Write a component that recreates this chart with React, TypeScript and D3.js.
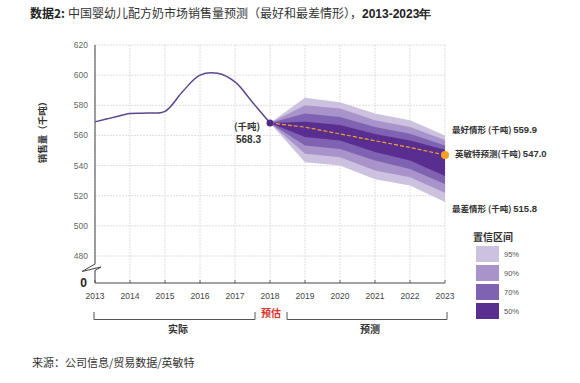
import React from "react";
import * as d3 from "d3";

const histYears = [2013, 2013.5, 2014, 2014.5, 2015, 2015.5, 2016, 2016.5, 2017, 2017.5, 2018];
const histValues = [569, 571.8, 574.5, 574.8, 576, 589, 600, 601.2, 595.5, 582, 568.3];

const fanYears = [2018, 2019, 2020, 2021, 2022, 2023];
const upper95 = [568.3, 585, 582, 574.5, 570, 559.9];
const upper90 = [568.3, 580, 577.8, 570, 565.6, 557];
const upper70 = [568.3, 574.5, 572.2, 565.6, 561.1, 553.3];
const upper50 = [568.3, 569, 567, 561, 556.7, 550.5];
const forecast = [568.3, 565.5, 561, 556.5, 552, 547.0];
const lower50 = [568.3, 559, 556.7, 549, 543.3, 533];
const lower70 = [568.3, 553.3, 551, 543.3, 537.8, 527.8];
const lower90 = [568.3, 547.8, 545.6, 536.7, 532.2, 522];
const lower95 = [568.3, 542.2, 540, 531, 526.7, 515.8];

const yearTicks = [2013, 2014, 2015, 2016, 2017, 2018, 2019, 2020, 2021, 2022, 2023];
const yTicks = [480, 500, 520, 540, 560, 580, 600, 620];
const legendLabels = ["95%", "90%", "70%", "50%"];
const bandColors = ["#cdc1e0", "#a894ca", "#7f62b1", "#5a2e91"];

const FONT = "'Noto Sans CJK SC', 'Liberation Sans', sans-serif";
const NUMFONT = "'Liberation Sans', Arial, sans-serif";

export default function App() {
  const x = d3.scaleLinear().domain([2013, 2023]).range([95, 445]);
  const y = d3.scaleLinear().domain([480, 620]).range([256, 45]);
  const axisY = 283;

  const line = d3
    .line<number>()
    .x((_, i) => x(histYears[i]))
    .y((d) => y(d))
    .curve(d3.curveCatmullRom.alpha(0.5));

  const bands = [
    [upper95, lower95],
    [upper90, lower90],
    [upper70, lower70],
    [upper50, lower50],
  ];
  const area = (up: number[], lo: number[]) =>
    d3
      .area<number>()
      .x((_, i) => x(fanYears[i]))
      .y0((_, i) => y(lo[i]))
      .y1((d) => y(d))(up) as string;

  const medLine = d3
    .line<number>()
    .x((_, i) => x(fanYears[i]))
    .y((d) => y(d))(forecast) as string;

  const last = fanYears.length - 1;

  return (
    <svg width={580} height={383} style={{ position: "absolute", left: 0, top: 0, background: "#fff" }}>
      {/* title */}
      <text x={30} y={18} fontFamily={FONT} fontSize={12} fill="#222">
        <tspan fontWeight="bold">数据2:</tspan>
        <tspan dx={3} fill="#333">中国婴幼儿配方奶市场销售量预测（最好和最差情形），</tspan>
        <tspan fontFamily={NUMFONT} fontWeight="bold" fill="#222">2013-2023年</tspan>
      </text>

      {/* grid */}
      {yTicks.map((t) => (
        <line key={"gy" + t} x1={95} x2={445} y1={y(t)} y2={y(t)} stroke="#d6d6d6" strokeWidth={0.8} strokeDasharray="2,1" />
      ))}
      {yearTicks.map((t) => (
        <line key={"gx" + t} x1={x(t)} x2={x(t)} y1={y(620)} y2={axisY} stroke="#d6d6d6" strokeWidth={0.8} strokeDasharray="2,1" />
      ))}

      {/* y tick labels */}
      {yTicks.map((t) => (
        <text key={"yl" + t} x={88} y={y(t) + 3} textAnchor="end" fontFamily={NUMFONT} fontSize={8.5} fill="#666">
          {t}
        </text>
      ))}
      <text x={87} y={axisY + 4} textAnchor="end" fontFamily={NUMFONT} fontSize={12} fontWeight="bold" fill="#222">
        0
      </text>

      {/* axes */}
      <path
        d={`M95,${y(620)} L95,264 L82,271.5 L101,267 L95,270.5 L95,${axisY} L445,${axisY}`}
        fill="none"
        stroke="#444"
        strokeWidth={1}
      />
      {yearTicks.map((t) => (
        <line key={"tk" + t} x1={x(t)} x2={x(t)} y1={axisY} y2={axisY - 3} stroke="#444" strokeWidth={0.8} />
      ))}
      {yearTicks.map((t) => (
        <text key={"xl" + t} x={x(t)} y={299} textAnchor="middle" fontFamily={NUMFONT} fontSize={8.5} fill="#444">
          {t}
        </text>
      ))}

      {/* y label */}
      <text
        transform={`translate(46,130) rotate(-90)`}
        textAnchor="middle"
        fontFamily={FONT}
        fontSize={9.5}
        fontWeight="bold"
        fill="#333"
      >
        销售量（千吨）
      </text>

      {/* fan */}
      {bands.map((b, i) => (
        <path key={"band" + i} d={area(b[0], b[1])} fill={bandColors[i]} />
      ))}
      <path d={medLine} fill="none" stroke="#f0a030" strokeWidth={1.2} strokeDasharray="4,2" />

      {/* history line */}
      <path d={line(histValues) as string} fill="none" stroke="#5b468d" strokeWidth={1.5} />
      <circle cx={x(2018)} cy={y(568.3)} r={3.5} fill="#4e2a86" />
      <circle cx={x(2023)} cy={y(forecast[last])} r={4} fill="#f5a01e" />

      {/* annotations */}
      <text x={234} y={130} fontFamily={FONT} fontSize={9.5} fontWeight="bold" fill="#333">
        (千吨)
      </text>
      <text x={236} y={143} fontFamily={NUMFONT} fontSize={10} fontWeight="bold" fill="#333">
        {forecast[0].toFixed(1)}
      </text>

      <text x={452} y={133} fontFamily={FONT} fontSize={8.5} fontWeight="bold" fill="#333">
        最好情形 (千吨) <tspan fontFamily={NUMFONT} fontSize={9.5}>{upper95[last].toFixed(1)}</tspan>
      </text>
      <text x={455} y={157} fontFamily={FONT} fontSize={8.5} fontWeight="bold" fill="#333">
        英敏特预测(千吨) <tspan fontFamily={NUMFONT} fontSize={9.5}>{forecast[last].toFixed(1)}</tspan>
      </text>
      <text x={452} y={212} fontFamily={FONT} fontSize={8.5} fontWeight="bold" fill="#333">
        最差情形 (千吨) <tspan fontFamily={NUMFONT} fontSize={9.5}>{lower95[last].toFixed(1)}</tspan>
      </text>

      {/* legend */}
      <text x={473} y={241} fontFamily={FONT} fontSize={10} fontWeight="bold" fill="#333">
        置信区间
      </text>
      {legendLabels.map((l, i) => (
        <g key={"lg" + l}>
          <rect x={476} y={246 + i * 19} width={23} height={16} fill={bandColors[i]} />
          <text x={504} y={257 + i * 19} fontFamily={NUMFONT} fontSize={7.5} fill="#555">
            {l}
          </text>
        </g>
      ))}

      {/* period brackets */}
      <path d="M94,312 L94,319.5 L255,319.5 L255,312" fill="none" stroke="#555" strokeWidth={1} />
      <path d="M287,312 L287,319.5 L447,319.5 L447,312" fill="none" stroke="#555" strokeWidth={1} />
      <text x={271} y={317} textAnchor="middle" fontFamily={FONT} fontSize={10} fontWeight="bold" fill="#d9302a">
        预估
      </text>
      <text x={178} y={333} textAnchor="middle" fontFamily={FONT} fontSize={10} fontWeight="bold" fill="#333">
        实际
      </text>
      <text x={370} y={333} textAnchor="middle" fontFamily={FONT} fontSize={10} fontWeight="bold" fill="#333">
        预测
      </text>

      {/* source */}
      <text x={32} y={367} fontFamily={FONT} fontSize={11} fill="#333">
        来源：公司信息/贸易数据/英敏特
      </text>
    </svg>
  );
}
